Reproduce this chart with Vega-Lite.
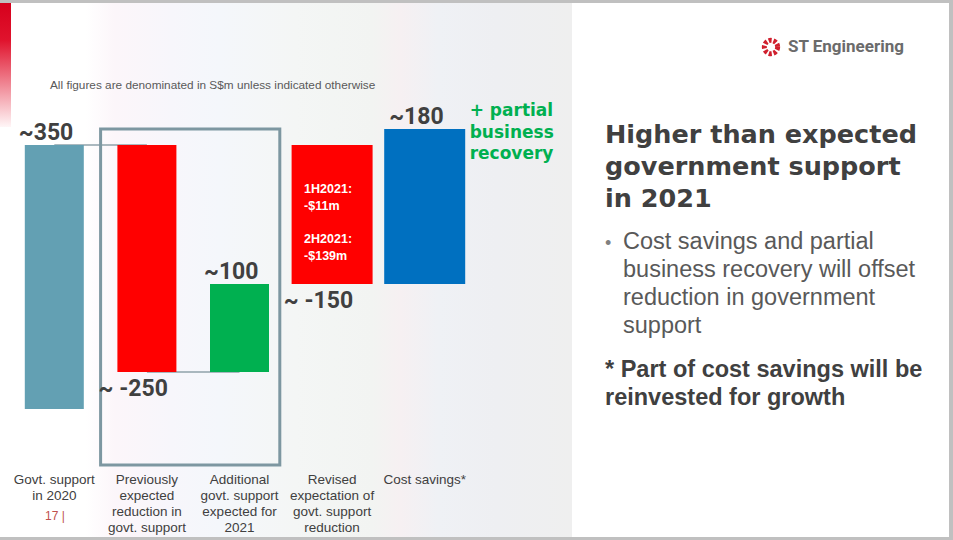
{
  "$schema": "https://vega.github.io/schema/vega-lite/v6.json",
  "width": 953,
  "height": 540,
  "autosize": {"type": "fit", "contains": "padding"},
  "padding": 0,
  "background": "#ffffff",
  "config": {
    "view": {"stroke": "#c0c0c0", "strokeWidth": 6},
    "text": {"font": "Liberation Sans"}
  },
  "datasets": {
    "steps": [
      {"step": "Govt. support in 2020", "label": "Govt. support\nin 2020", "start": 0, "end": 350, "amount": 350, "value_label": "~350", "kind": "base", "phase": "initial", "detail_1h": "", "detail_2h": "", "side_note": ""},
      {"step": "Previously expected reduction in govt. support", "label": "Previously\nexpected\nreduction in\ngovt. support", "start": 350, "end": 100, "amount": -250, "value_label": "~ -250", "kind": "reduction", "phase": "initial", "detail_1h": "", "detail_2h": "", "side_note": ""},
      {"step": "Additional govt. support expected for 2021", "label": "Additional\ngovt. support\nexpected for\n2021", "start": 100, "end": 200, "amount": 100, "value_label": "~100", "kind": "support", "phase": "initial", "detail_1h": "", "detail_2h": "", "side_note": ""},
      {"step": "Revised expectation of govt. support reduction", "label": "Revised\nexpectation of\ngovt. support\nreduction", "start": 350, "end": 200, "amount": -150, "value_label": "~ -150", "kind": "reduction", "phase": "revised", "detail_1h": "1H2021:\n-$11m", "detail_2h": "2H2021:\n-$139m", "side_note": ""},
      {"step": "Cost savings*", "label": "Cost savings*", "start": 200, "end": 380, "amount": 180, "value_label": "~180", "kind": "savings", "phase": "revised", "detail_1h": "", "detail_2h": "", "side_note": "+ partial\nbusiness\nrecovery"}
    ],
    "connectors": [
      {"from": "Govt. support in 2020", "to": "Previously expected reduction in govt. support", "level": 350},
      {"from": "Previously expected reduction in govt. support", "to": "Additional govt. support expected for 2021", "level": 100}
    ],
    "highlight": [
      {"from": "Previously expected reduction in govt. support", "to": "Additional govt. support expected for 2021"}
    ],
    "slide_text": [
      {"role": "subtitle", "text": "All figures are denominated in S$m unless indicated otherwise"},
      {"role": "heading", "text": "Higher than expected\ngovernment support\nin 2021"},
      {"role": "bullet", "text": "Cost savings and partial\nbusiness recovery will offset\nreduction in government\nsupport"},
      {"role": "note", "text": "* Part of cost savings will be\nreinvested for growth"},
      {"role": "brand", "text": "ST Engineering"},
      {"role": "page", "text": "17  |"}
    ]
  },
  "layer": [
    {
      "data": {"name": "slide_text"},
      "transform": [{"filter": "datum.role === 'page'"}],
      "mark": {
        "type": "rect",
        "fill": {
          "gradient": "linear", "x1": 0, "y1": 0, "x2": 1, "y2": 0,
          "stops": [
            {"offset": 0, "color": "#ffffff"},
            {"offset": 0.09, "color": "#ffffff"},
            {"offset": 0.12, "color": "#fcf6fa"},
            {"offset": 0.18, "color": "#f7f6fb"},
            {"offset": 0.23, "color": "#f4f7fb"},
            {"offset": 0.31, "color": "#f4f6f5"},
            {"offset": 0.39, "color": "#f2f4f2"},
            {"offset": 0.42, "color": "#f6f0f2"},
            {"offset": 0.46, "color": "#eff1f5"},
            {"offset": 0.52, "color": "#eeeff2"},
            {"offset": 0.6, "color": "#efefef"},
            {"offset": 0.6002, "color": "#ffffff"},
            {"offset": 0.9955, "color": "#ffffff"},
            {"offset": 0.9958, "color": "#c0c0c0"},
            {"offset": 1, "color": "#c0c0c0"}
          ]
        }
      },
      "encoding": {"x": {"value": 0}, "x2": {"value": 953}, "y": {"value": 3}, "y2": {"value": 537}}
    },
    {
      "data": {"name": "slide_text"},
      "transform": [{"filter": "datum.role === 'page'"}],
      "mark": {
        "type": "rect",
        "fill": {
          "gradient": "linear", "x1": 0, "y1": 0, "x2": 0, "y2": 1,
          "stops": [
            {"offset": 0, "color": "#d6001c"},
            {"offset": 0.3, "color": "#e0132d"},
            {"offset": 1, "color": "#fff6f7"}
          ]
        }
      },
      "encoding": {"x": {"value": 0}, "x2": {"value": 11}, "y": {"value": 3}, "y2": {"value": 127}}
    },
    {
      "data": {"name": "connectors"},
      "mark": {"type": "rule", "color": "#8fa2aa", "strokeWidth": 1.5},
      "encoding": {
        "x": {"field": "from", "type": "nominal", "axis": null},
        "x2": {"field": "to"},
        "y": {"field": "level", "type": "quantitative", "axis": null}
      }
    },
    {
      "data": {"name": "highlight"},
      "mark": {"type": "rect", "filled": false, "stroke": "#7d97a1", "strokeWidth": 3, "x2Offset": -6, "y2Offset": 56},
      "encoding": {
        "x": {"field": "from", "type": "nominal", "bandPosition": 0, "axis": null},
        "x2": {"field": "to", "bandPosition": 1},
        "y": {"datum": 380, "type": "quantitative", "axis": null},
        "y2": {"datum": 0}
      }
    },
    {
      "data": {"name": "steps"},
      "transform": [{"filter": "datum.phase === 'initial'"}],
      "mark": {"type": "bar", "width": 59},
      "encoding": {
        "x": {
          "field": "step", "type": "nominal", "axis": null,
          "scale": {
            "domain": ["Govt. support in 2020", "Previously expected reduction in govt. support", "Additional govt. support expected for 2021", "Revised expectation of govt. support reduction", "Cost savings*"],
            "range": [8, 471], "paddingInner": 0, "paddingOuter": 0
          }
        },
        "y": {
          "field": "start", "type": "quantitative", "axis": null,
          "scale": {"domain": [0, 100, 200, 350, 380], "range": [409, 372, 284, 145, 129], "nice": false, "zero": false}
        },
        "y2": {"field": "end"},
        "color": {
          "field": "kind", "type": "nominal", "legend": null,
          "scale": {"domain": ["base", "reduction", "support", "savings"], "range": ["#63a0b3", "#ff0000", "#00b050", "#0070c0"]}
        }
      }
    },
    {
      "data": {"name": "steps"},
      "transform": [{"filter": "datum.phase === 'revised'"}],
      "mark": {"type": "bar", "width": 81},
      "encoding": {
        "x": {"field": "step", "type": "nominal", "axis": null},
        "y": {"field": "start", "type": "quantitative", "axis": null},
        "y2": {"field": "end"},
        "color": {"field": "kind", "type": "nominal", "legend": null}
      }
    },
    {
      "data": {"name": "steps"},
      "transform": [{"filter": "datum.amount > 0"}],
      "mark": {"type": "text", "align": "right", "baseline": "alphabetic", "dx": 19, "dy": -5, "font": "Liberation Sans Narrow, Roboto, sans-serif", "fontWeight": "bold", "fontSize": 23, "color": "#404040"},
      "encoding": {
        "x": {"field": "step", "type": "nominal", "axis": null},
        "y": {"field": "end", "type": "quantitative", "axis": null},
        "text": {"field": "value_label"}
      }
    },
    {
      "data": {"name": "steps"},
      "transform": [{"filter": "datum.amount < 0"}],
      "mark": {"type": "text", "align": "right", "baseline": "alphabetic", "dx": 21, "dy": 24, "font": "Liberation Sans Narrow, Roboto, sans-serif", "fontWeight": "bold", "fontSize": 23, "color": "#404040"},
      "encoding": {
        "x": {"field": "step", "type": "nominal", "axis": null},
        "y": {"field": "end", "type": "quantitative", "axis": null},
        "text": {"field": "value_label"}
      }
    },
    {
      "data": {"name": "steps"},
      "mark": {"type": "text", "align": "center", "baseline": "top", "dy": 64, "lineBreak": "\n", "lineHeight": 16, "fontSize": 13.5, "color": "#404040"},
      "encoding": {
        "x": {"field": "step", "type": "nominal", "axis": null},
        "y": {"datum": 0, "type": "quantitative", "axis": null},
        "text": {"field": "label"}
      }
    },
    {
      "data": {"name": "steps"},
      "transform": [{"filter": "datum.detail_1h !== ''"}],
      "mark": {"type": "text", "align": "left", "baseline": "alphabetic", "dx": -28, "dy": 48, "lineBreak": "\n", "lineHeight": 16.5, "fontSize": 12.5, "fontWeight": "bold", "color": "#ffffff"},
      "encoding": {
        "x": {"field": "step", "type": "nominal", "axis": null},
        "y": {"field": "start", "type": "quantitative", "axis": null},
        "text": {"field": "detail_1h"}
      }
    },
    {
      "data": {"name": "steps"},
      "transform": [{"filter": "datum.detail_2h !== ''"}],
      "mark": {"type": "text", "align": "left", "baseline": "alphabetic", "dx": -28, "dy": 98, "lineBreak": "\n", "lineHeight": 16.5, "fontSize": 12.5, "fontWeight": "bold", "color": "#ffffff"},
      "encoding": {
        "x": {"field": "step", "type": "nominal", "axis": null},
        "y": {"field": "start", "type": "quantitative", "axis": null},
        "text": {"field": "detail_2h"}
      }
    },
    {
      "data": {"name": "steps"},
      "transform": [{"filter": "datum.side_note !== ''"}],
      "mark": {"type": "text", "align": "left", "baseline": "alphabetic", "dx": 45, "dy": -13, "lineBreak": "\n", "lineHeight": 21.5, "font": "DejaVu Sans", "fontSize": 17, "fontWeight": "bold", "color": "#00b050"},
      "encoding": {
        "x": {"field": "step", "type": "nominal", "axis": null},
        "y": {"field": "end", "type": "quantitative", "axis": null},
        "text": {"field": "side_note"}
      }
    },
    {
      "data": {"name": "slide_text"},
      "transform": [{"filter": "datum.role === 'subtitle'"}],
      "mark": {"type": "text", "align": "left", "baseline": "alphabetic", "fontSize": 11.8, "color": "#595959"},
      "encoding": {"x": {"value": 50}, "y": {"value": 89}, "text": {"field": "text"}}
    },
    {
      "data": {"name": "slide_text"},
      "transform": [{"filter": "datum.role === 'page'"}],
      "mark": {"type": "text", "align": "left", "baseline": "alphabetic", "fontSize": 12, "color": "#c0504d"},
      "encoding": {"x": {"value": 45}, "y": {"value": 520}, "text": {"field": "text"}}
    },
    {
      "data": {"name": "slide_text"},
      "transform": [{"filter": "datum.role === 'heading'"}],
      "mark": {"type": "text", "align": "left", "baseline": "alphabetic", "lineBreak": "\n", "lineHeight": 32, "font": "DejaVu Sans", "fontSize": 25.5, "fontWeight": "bold", "color": "#404040"},
      "encoding": {"x": {"value": 605}, "y": {"value": 143}, "text": {"field": "text"}}
    },
    {
      "data": {"name": "slide_text"},
      "transform": [{"filter": "datum.role === 'bullet'"}],
      "mark": {"type": "text", "align": "left", "baseline": "alphabetic", "fontSize": 18, "color": "#808080"},
      "encoding": {"x": {"value": 605}, "y": {"value": 249}, "text": {"value": "•"}}
    },
    {
      "data": {"name": "slide_text"},
      "transform": [{"filter": "datum.role === 'bullet'"}],
      "mark": {"type": "text", "align": "left", "baseline": "alphabetic", "lineBreak": "\n", "lineHeight": 28, "fontSize": 23.5, "color": "#595959"},
      "encoding": {"x": {"value": 623}, "y": {"value": 249}, "text": {"field": "text"}}
    },
    {
      "data": {"name": "slide_text"},
      "transform": [{"filter": "datum.role === 'note'"}],
      "mark": {"type": "text", "align": "left", "baseline": "alphabetic", "lineBreak": "\n", "lineHeight": 28, "fontSize": 23.5, "fontWeight": "bold", "color": "#404040"},
      "encoding": {"x": {"value": 605}, "y": {"value": 377}, "text": {"field": "text"}}
    },
    {
      "data": {"name": "slide_text"},
      "transform": [{"filter": "datum.role === 'brand'"}],
      "mark": {"type": "text", "align": "left", "baseline": "alphabetic", "font": "Liberation Sans Narrow, Roboto, sans-serif", "fontSize": 17, "fontWeight": "bold", "color": "#6b6b6b"},
      "encoding": {"x": {"value": 788}, "y": {"value": 52}, "text": {"field": "text"}}
    },
    {
      "data": {"name": "slide_text"},
      "transform": [{"filter": "datum.role === 'brand'"}],
      "mark": {"type": "point", "shape": "circle", "filled": false, "size": 177, "stroke": "#d0202e", "strokeWidth": 5, "strokeDash": [3, 1.8], "opacity": 1},
      "encoding": {"x": {"value": 771}, "y": {"value": 47}}
    }
  ]
}
